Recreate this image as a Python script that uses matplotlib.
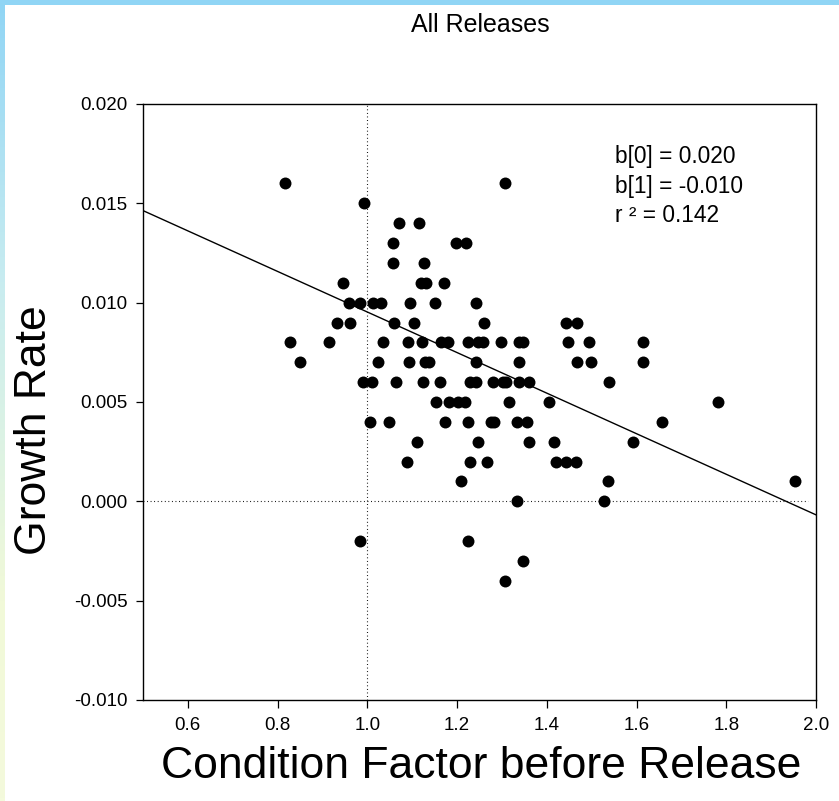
import numpy as np
import matplotlib
matplotlib.use("Agg")
import matplotlib.pyplot as plt

plt.rcParams['font.family'] = ['Liberation Sans', 'DejaVu Sans']

# ---- data ----
cond_factor = [
    0.817, 1.307,
    0.992,
    1.070, 1.116,
    1.058, 1.198, 1.220,
    1.057, 1.126,
    0.945, 1.120, 1.131, 1.170,
    0.959, 0.984, 1.012, 1.031, 1.095, 1.150, 1.243,
    0.933, 0.962, 1.060, 1.105, 1.261, 1.443, 1.467,
    0.828, 0.914, 1.036, 1.090, 1.122, 1.165, 1.179, 1.224, 1.246, 1.257, 1.297, 1.338, 1.348, 1.447, 1.495, 1.615,
    0.849, 1.023, 1.092, 1.128, 1.137, 1.243, 1.339, 1.467, 1.499, 1.615,
    0.991, 1.010, 1.063, 1.125, 1.161, 1.228, 1.243, 1.280, 1.302, 1.309, 1.339, 1.361, 1.538,
    1.153, 1.183, 1.202, 1.217, 1.315, 1.404, 1.781,
    1.005, 1.048, 1.172, 1.224, 1.276, 1.283, 1.334, 1.356, 1.656,
    1.111, 1.246, 1.360, 1.417, 1.592,
    1.088, 1.229, 1.267, 1.421, 1.443, 1.464,
    1.209, 1.536, 1.954,
    1.333, 1.528,
    0.984, 1.224,
    1.348,
    1.306,
]
growth_rate = (
    [0.016] * 2 + [0.015] * 1 + [0.014] * 2 + [0.013] * 3 + [0.012] * 2 +
    [0.011] * 4 + [0.010] * 7 + [0.009] * 7 + [0.008] * 16 + [0.007] * 10 +
    [0.006] * 13 + [0.005] * 7 + [0.004] * 9 + [0.003] * 5 + [0.002] * 6 +
    [0.001] * 3 + [0.000] * 2 + [-0.002] * 2 + [-0.003] * 1 + [-0.004] * 1
)

# regression line coefficients (as drawn) and the printed statistics
b0 = 0.01974
b1 = -0.01021
stats_text = ["b[0] = 0.020", "b[1] = -0.010", "r \u00b2 = 0.142"]

x_ticks = [0.6, 0.8, 1.0, 1.2, 1.4, 1.6, 1.8, 2.0]
x_tick_labels = ["0.6", "0.8", "1.0", "1.2", "1.4", "1.6", "1.8", "2.0"]
y_ticks = [-0.010, -0.005, 0.000, 0.005, 0.010, 0.015, 0.020]
y_tick_labels = ["-0.010", "-0.005", "0.000", "0.005", "0.010", "0.015", "0.020"]

W, H = 839, 801
fig = plt.figure(figsize=(W / 100, H / 100), dpi=100)
fig.patch.set_facecolor('white')

# decorative border: top blue band and left gradient strip
top = fig.add_axes([0, 1 - 5 / H, 1, 5 / H], zorder=0)
top.set_facecolor('#90d5f5')
top.set_axis_off()
top.add_patch(plt.Rectangle((0, 0), 1, 1, color='#90d5f5', transform=top.transAxes))
left = fig.add_axes([0, 0, 5 / W, 1], zorder=0)
grad = np.linspace(0, 1, 256).reshape(-1, 1)
from matplotlib.colors import LinearSegmentedColormap
cmap = LinearSegmentedColormap.from_list('g', [(0, '#90d5f5'), (0.35, '#c8ecf0'), (0.75, '#f1f9d8'), (1, '#f4fadc')])
left.imshow(grad, aspect='auto', cmap=cmap, extent=[0, 1, 1, 0])
left.set_axis_off()

ax = fig.add_axes([143 / W, 1 - 700 / H, (816 - 143) / W, (700 - 104) / H], zorder=2)
ax.set_xlim(0.5, 2.0)
ax.set_ylim(-0.010, 0.020)

ax.axvline(1.0, color='black', lw=0.8, linestyle=(0, (0.8, 2.4)), zorder=1)
ax.axhline(0.0, xmax=0.988, color='black', lw=0.8, linestyle=(0, (0.8, 2.4)), zorder=1)

ax.plot(cond_factor, growth_rate, 'o', color='black', markersize=8.6,
        markeredgewidth=0, zorder=3)

xl = np.array([0.5, 2.0])
ax.plot(xl, b0 + b1 * xl, color='black', lw=1.0, zorder=2)

ax.set_xticks(x_ticks)
ax.set_xticklabels(x_tick_labels)
ax.set_yticks(y_ticks)
ax.set_yticklabels(y_tick_labels)
ax.tick_params(axis='both', direction='out', labelsize=13.5, width=0.9, colors='black')
ax.tick_params(axis='x', length=6, pad=6)
ax.tick_params(axis='y', length=5, pad=6)
for s in ax.spines.values():
    s.set_linewidth(1.0)
    s.set_color('black')

for i, t in enumerate(stats_text):
    fig.text(615 / W, 1 - (157 + 29 * i) / H, t, fontsize=16.4, ha='left', va='center')

fig.text(480 / W, 1 - 25 / H, "All Releases", fontsize=18, ha='center', va='center')
fig.text(481 / W, 1 - 767 / H, "Condition Factor before Release", fontsize=32,
         ha='center', va='center')
fig.text(35 / W, 1 - 430 / H, "Growth Rate", fontsize=32, rotation=90,
         ha='center', va='center')

fig.savefig('out.png', dpi=100)
